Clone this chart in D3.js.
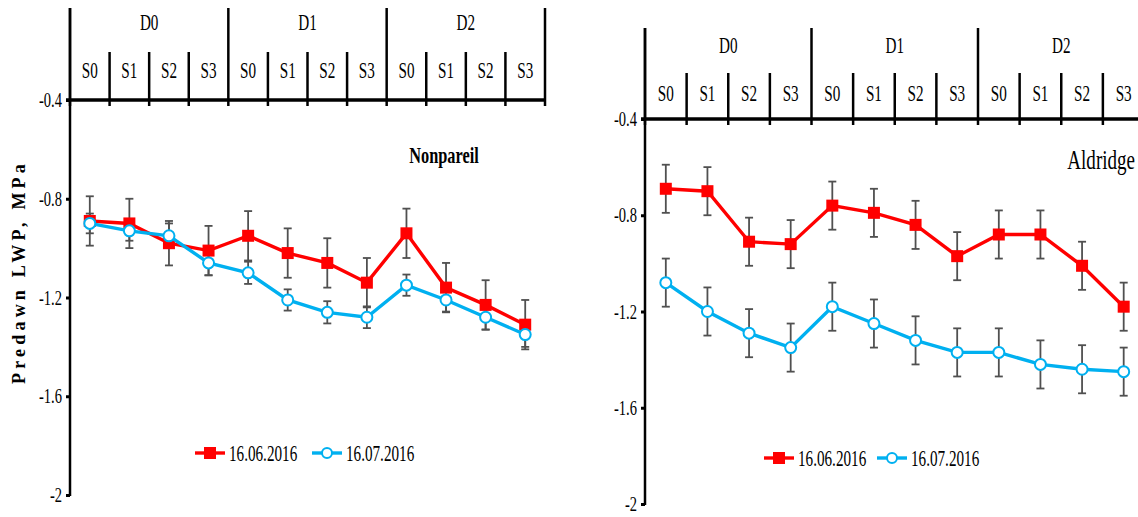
<!DOCTYPE html>
<html>
<head>
<meta charset="utf-8">
<title>Predawn LWP</title>
<style>
  body { margin: 0; background: #fff; }
  svg { display: block; }
  text { font-family: "Liberation Serif", "Times New Roman", serif; fill: #000; }
</style>
<script src="https://cdn.jsdelivr.net/npm/d3@7/dist/d3.min.js"></script>
</head>
<body>
<script>
  // treatments and dates
  var doses = ['D0', 'D1', 'D2'];
  var stages = ['S0', 'S1', 'S2', 'S3'];
  var dates = ['16.06.2016', '16.07.2016'];
  var yTicks = [-0.4, -0.8, -1.2, -1.6, -2];

  // Nonpareil, predawn LWP (MPa)
  var nonJun = [-0.89, -0.90, -0.98, -1.01, -0.95, -1.02, -1.06, -1.14, -0.94, -1.16, -1.23, -1.31];
  var nonJunErr = [0.10, 0.10, 0.09, 0.10, 0.10, 0.10, 0.10, 0.10, 0.10, 0.10, 0.10, 0.10];
  var nonJul = [-0.90, -0.93, -0.95, -1.06, -1.10, -1.21, -1.26, -1.28, -1.15, -1.21, -1.28, -1.35];
  var nonJulErr = [0.04, 0.04, 0.05, 0.05, 0.045, 0.043, 0.045, 0.044, 0.043, 0.047, 0.05, 0.05];

  // Aldridge, predawn LWP (MPa)
  var aldJun = [-0.69, -0.70, -0.91, -0.92, -0.76, -0.79, -0.84, -0.97, -0.88, -0.88, -1.01, -1.18];
  var aldJunErr = [0.10, 0.10, 0.10, 0.10, 0.10, 0.10, 0.10, 0.10, 0.10, 0.10, 0.10, 0.10];
  var aldJul = [-1.08, -1.20, -1.29, -1.35, -1.18, -1.25, -1.32, -1.37, -1.37, -1.42, -1.44, -1.45];
  var aldJulErr = [0.10, 0.10, 0.10, 0.10, 0.10, 0.10, 0.10, 0.10, 0.10, 0.10, 0.10, 0.10];

  var red = '#ff0000', blue = '#00b0f0', errColor = '#505050';
  var squeeze = 0.66; // narrow serif look of the original

  var svg = d3.select('body').append('svg')
    .attr('width', 1138)
    .attr('height', 517);

  // text helper: horizontally squeezed serif
  function label(g, x, y, str, size, anchor, weight, sq) {
    return g.append('text')
      .attr('transform', `translate(${x},${y}) scale(${sq || squeeze},1)`)
      .attr('text-anchor', anchor || 'middle')
      .style('font-size', size + 'px')
      .style('font-weight', weight || 'normal')
      .text(str);
  }

  function drawPanel(p) {
    var cats = [];
    doses.forEach(d => stages.forEach(s => cats.push(d + s)));
    var right = p.left + p.cell * 12;

    var x = d3.scaleBand().domain(cats).range([p.left, right]);
    var xd = d3.scaleBand().domain(doses).range([p.left, right]);
    var y = d3.scaleLinear().domain([-2, -0.4]).range([p.bottom, p.axisY]);
    var cx = i => x(cats[i]) + x.bandwidth() / 2;

    var g = svg.append('g');

    // y axis
    var yAxis = d3.axisLeft(y)
      .tickValues(yTicks)
      .tickSize(4)
      .tickFormat(d => String(d));
    var ya = g.append('g')
      .attr('transform', `translate(${p.left},0)`)
      .call(yAxis);
    ya.select('.domain').remove();
    ya.selectAll('.tick line').attr('stroke', '#000').attr('stroke-width', 3);
    ya.selectAll('.tick text')
      .attr('transform', `scale(${squeeze},1)`)
      .attr('x', -8 / squeeze)
      .attr('dy', '0.3em')
      .style('font-size', '22px')
      .style('font-family', '"Liberation Serif", serif');

    g.append('line')
      .attr('x1', p.left).attr('x2', p.left)
      .attr('y1', p.top).attr('y2', p.bottom + 1)
      .attr('stroke', '#000').attr('stroke-width', 2.5);

    // header: dose dividers, stage dividers, labels
    var edges = cats.map(c => x(c)).concat([right]);
    g.selectAll('.sdiv')
      .data(edges)
      .enter().append('line')
      .attr('x1', d => d).attr('x2', d => d)
      .attr('y1', (d, i) => i % 4 === 0 ? p.top : p.subTop)
      .attr('y2', p.axisY + 6)
      .attr('stroke', '#000').attr('stroke-width', 2.5);

    g.append('line')
      .attr('x1', p.left - 4).attr('x2', right)
      .attr('y1', p.axisY).attr('y2', p.axisY)
      .attr('stroke', '#000').attr('stroke-width', 3.5);

    doses.forEach(d => label(g, xd(d) + xd.bandwidth() / 2, p.dY, d, 23));
    cats.forEach(c => label(g, x(c) + x.bandwidth() / 2, p.sY, c.slice(2), 23));

    // series
    var series = [
      { vals: p.jun, err: p.junErr, color: red, marker: 'square' },
      { vals: p.jul, err: p.julErr, color: blue, marker: 'circle' }
    ];

    series.forEach(s => {
      var eb = g.append('g');
      s.vals.forEach((v, i) => {
        var x0 = cx(i), y1 = y(v + s.err[i]), y2 = y(v - s.err[i]);
        eb.append('line').attr('x1', x0).attr('x2', x0).attr('y1', y1).attr('y2', y2)
          .attr('stroke', errColor).attr('stroke-width', 1.8);
        [y1, y2].forEach(yy => eb.append('line')
          .attr('x1', x0 - 4).attr('x2', x0 + 4).attr('y1', yy).attr('y2', yy)
          .attr('stroke', errColor).attr('stroke-width', 1.8));
      });
    });

    var line = d3.line().x((d, i) => cx(i)).y(d => y(d));

    series.forEach(s => {
      g.append('path')
        .datum(s.vals)
        .attr('d', line)
        .attr('fill', 'none')
        .attr('stroke', s.color)
        .attr('stroke-width', 3.4);
      if (s.marker === 'square') {
        g.selectAll(null).data(s.vals).enter().append('rect')
          .attr('x', (d, i) => cx(i) - 6).attr('y', d => y(d) - 6)
          .attr('width', 12).attr('height', 12)
          .attr('fill', s.color);
      } else {
        g.selectAll(null).data(s.vals).enter().append('circle')
          .attr('cx', (d, i) => cx(i)).attr('cy', d => y(d)).attr('r', 5.5)
          .attr('fill', '#fff').attr('stroke', s.color).attr('stroke-width', 2);
      }
    });

    // cultivar name
    label(g, p.nameX, p.nameY, p.name, p.nameSize, p.nameAnchor, p.nameWeight, 0.68);

    // legend
    p.legend.forEach((lx, k) => {
      var col = k === 0 ? red : blue;
      g.append('line')
        .attr('x1', lx).attr('x2', lx + 30)
        .attr('y1', p.legendY).attr('y2', p.legendY)
        .attr('stroke', col).attr('stroke-width', 3.4);
      if (k === 0) {
        g.append('rect').attr('x', lx + 9).attr('y', p.legendY - 6)
          .attr('width', 12).attr('height', 12).attr('fill', col);
      } else {
        g.append('circle').attr('cx', lx + 15).attr('cy', p.legendY).attr('r', 5)
          .attr('fill', '#fff').attr('stroke', col).attr('stroke-width', 2);
      }
      label(g, lx + 34, p.legendY + 8, dates[k], 23, 'start');
    });
  }

  drawPanel({
    left: 70, cell: (545 - 70) / 12, top: 8, subTop: 52, axisY: 100, bottom: 495,
    dY: 30, sY: 78,
    jun: nonJun, junErr: nonJunErr, jul: nonJul, julErr: nonJulErr,
    name: 'Nonpareil', nameX: 444, nameY: 163, nameSize: 24, nameAnchor: 'middle', nameWeight: 'bold',
    legend: [195, 312], legendY: 453
  });

  drawPanel({
    left: 645, cell: (978 - 645) / 8, top: 28, subTop: 73, axisY: 119, bottom: 504,
    dY: 53, sY: 101,
    jun: aldJun, junErr: aldJunErr, jul: aldJul, julErr: aldJulErr,
    name: 'Aldridge', nameX: 1135, nameY: 169, nameSize: 28, nameAnchor: 'end', nameWeight: 'normal',
    legend: [764, 877], legendY: 458
  });

  // y axis title
  svg.append('text')
    .attr('transform', 'translate(19,272) rotate(-90)')
    .attr('dy', '0.35em')
    .attr('text-anchor', 'middle')
    .style('font-size', '18px')
    .style('font-weight', 'bold')
    .style('letter-spacing', '4.2px')
    .text('Predawn LWP, MPa');
</script>
</body>
</html>
